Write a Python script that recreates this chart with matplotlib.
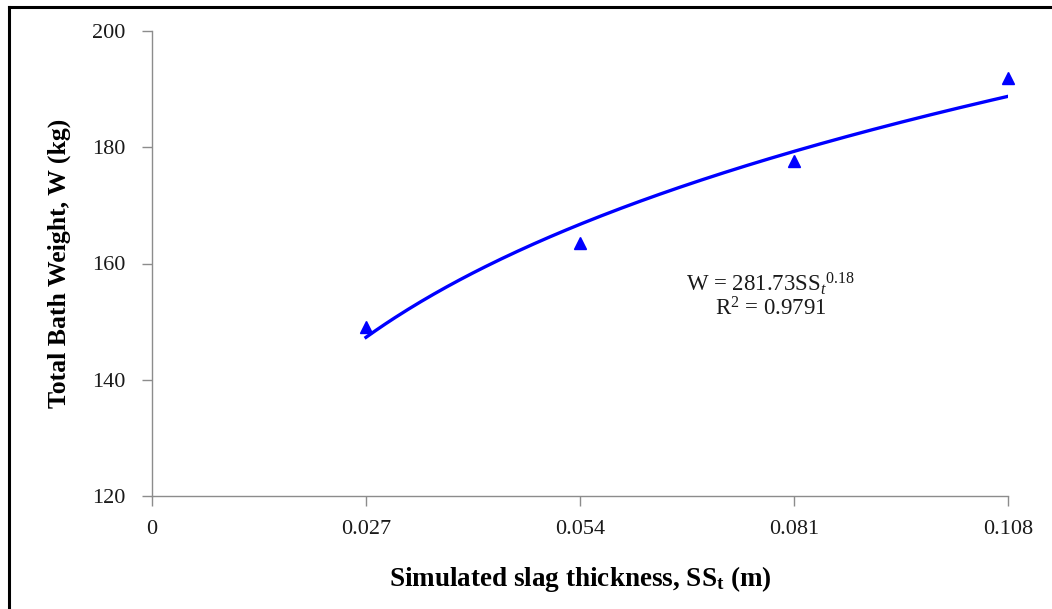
import numpy as np
import matplotlib
matplotlib.use("Agg")
import matplotlib.pyplot as plt
from matplotlib.lines import Line2D

plt.rcParams['font.family'] = ['Liberation Serif', 'DejaVu Serif']
plt.rcParams['mathtext.fontset'] = 'custom'
plt.rcParams['mathtext.rm'] = 'Liberation Serif'
plt.rcParams['mathtext.it'] = 'Liberation Serif:italic'
plt.rcParams['mathtext.bf'] = 'Liberation Serif:bold'

# data
slag_thickness = [0.027, 0.054, 0.081, 0.108]
bath_weight = [149.0, 163.6, 177.6, 192.0]
x_ticks = [0, 0.027, 0.054, 0.081, 0.108]
x_tick_labels = ['0', '0.027', '0.054', '0.081', '0.108']
y_ticks = [120, 140, 160, 180, 200]

# power trendline (fitted like excel does, log-log least squares)
b, log_a = np.polyfit(np.log(slag_thickness), np.log(bath_weight), 1)
xs = np.linspace(min(slag_thickness), max(slag_thickness), 200)
ys = np.exp(log_a) * xs ** b

fig = plt.figure(figsize=(10.52, 6.09), dpi=100)
ax = fig.add_axes([152 / 1052, 1 - 496 / 609, (1008 - 152) / 1052, (496 - 31) / 609])

ax.plot(xs, ys, color='#0000ff', linewidth=2.4, zorder=2)
ax.plot(slag_thickness, bath_weight, linestyle='none', marker='^', markersize=8,
        color='#0000ff', zorder=3, clip_on=False)

ax.set_xlim(0, 0.108)
ax.set_ylim(120, 200)
ax.set_xticks(x_ticks)
ax.set_xticklabels(x_tick_labels)
ax.set_yticks(y_ticks)

for side in ['top', 'right']:
    ax.spines[side].set_visible(False)
for side in ['left', 'bottom']:
    ax.spines[side].set_color('#8c8c8c')
    ax.spines[side].set_linewidth(1.0)
ax.tick_params(axis='both', direction='out', length=7, width=1.0, color='#8c8c8c',
               labelsize=16, labelcolor='#1a1a1a')
ax.tick_params(axis='y', pad=12)
ax.tick_params(axis='x', pad=10)

ax.set_xlabel(r'Simulated slag thickness, SS$_\mathbf{t}$ (m)', fontsize=19.5,
              fontweight='bold', labelpad=18)
ax.set_ylabel('Total Bath Weight, W (kg)', fontsize=18.5, fontweight='bold', labelpad=15)

ax.text(0.0781, 156.6, r'W = 281.73SS$_t$$^{0.18}$', fontsize=16.5, ha='center',
        va='center', color='#1a1a1a')
ax.text(0.0781, 152.2, r'R$^2$ = 0.9791', fontsize=16.5, ha='center', va='center',
        color='#1a1a1a')

# frame around the chart area (left and top only visible in the original)
fig.add_artist(Line2D([9 / 1052, 9 / 1052], [0, 1 - 7 / 609], transform=fig.transFigure,
                      color='black', linewidth=2.2))
fig.add_artist(Line2D([9 / 1052, 1], [1 - 7 / 609, 1 - 7 / 609], transform=fig.transFigure,
                      color='black', linewidth=2.2))

fig.savefig('out.png', dpi=100)
